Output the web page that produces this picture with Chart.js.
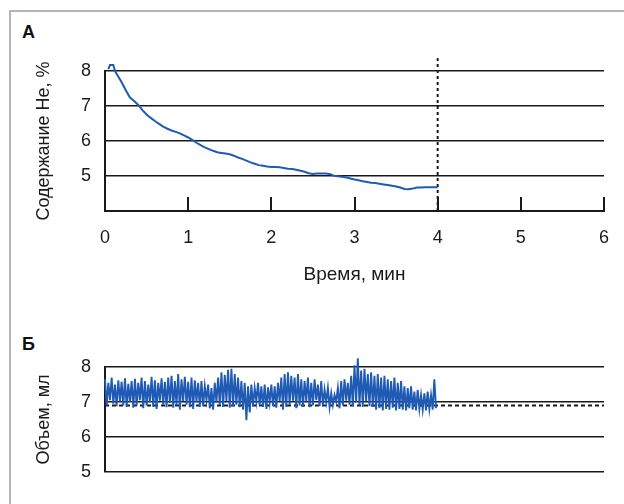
<!DOCTYPE html>
<html>
<head>
<meta charset="utf-8">
<script src="https://cdn.jsdelivr.net/npm/chart.js@4.4.1/dist/chart.umd.min.js"></script>
<style>
  body { margin: 0; background: #fff; }
  #wrap { position: relative; width: 624px; height: 504px; overflow: hidden; font-family: 'Liberation Sans', Arial, sans-serif; }
  .frame { position: absolute; left: 9px; top: 10px; width: 700px; height: 600px; border: 2px solid #b4b4b4; }
  .panel { position: absolute; left: 22px; font-weight: bold; font-size: 18px; line-height: 1; color: #111; }
  .box { position: absolute; left: 0; width: 624px; }
</style>
</head>
<body>
<div id="wrap">
  <div class="frame"></div>
  <div class="panel" style="top:23px">А</div>
  <div class="panel" style="top:335px">Б</div>
  <div class="box" style="top:0;height:290px"><canvas id="chartA"></canvas></div>
  <div class="box" style="top:290px;height:214px"><canvas id="chartB"></canvas></div>
</div>
<script>
// Panel A: helium content, %
const heTime = [0.04, 0.06, 0.10, 0.12, 0.15, 0.20, 0.25, 0.30, 0.35, 0.40,
  0.45, 0.50, 0.55, 0.60, 0.65, 0.70, 0.75, 0.80, 0.85, 0.90,
  0.95, 1.00, 1.05, 1.10, 1.15, 1.20, 1.25, 1.30, 1.35, 1.40,
  1.45, 1.50, 1.55, 1.60, 1.65, 1.70, 1.75, 1.80, 1.85, 1.90,
  1.95, 2.00, 2.05, 2.10, 2.15, 2.20, 2.25, 2.30, 2.35, 2.40,
  2.45, 2.50, 2.55, 2.60, 2.65, 2.70, 2.75, 2.80, 2.85, 2.90,
  2.95, 3.00, 3.05, 3.10, 3.15, 3.20, 3.25, 3.30, 3.35, 3.40,
  3.45, 3.50, 3.55, 3.60, 3.65, 3.70, 3.75, 3.80, 3.85, 3.90,
  3.95, 4.00];
const heValue = [8.05, 8.17, 8.17, 8.00, 7.88, 7.68, 7.45, 7.24, 7.14, 7.03,
  6.88, 6.76, 6.66, 6.57, 6.49, 6.41, 6.35, 6.30, 6.26, 6.22,
  6.16, 6.10, 6.03, 5.95, 5.88, 5.82, 5.77, 5.72, 5.68, 5.66,
  5.64, 5.62, 5.58, 5.53, 5.49, 5.44, 5.39, 5.35, 5.31, 5.29,
  5.27, 5.26, 5.26, 5.25, 5.23, 5.21, 5.20, 5.18, 5.15, 5.12,
  5.08, 5.06, 5.07, 5.07, 5.07, 5.06, 5.01, 4.99, 4.98, 4.96,
  4.93, 4.90, 4.88, 4.85, 4.83, 4.81, 4.80, 4.78, 4.76, 4.74,
  4.72, 4.70, 4.67, 4.63, 4.62, 4.64, 4.67, 4.67, 4.68, 4.68,
  4.68, 4.68];
const cutoffTime = 4;
const cutoffTop = 8.37;

// Panel B: volume, ml (peaks and troughs of each breath, 0.04 min apart)
const volStep = 0.04;
const volHigh = [7.65, 7.55, 7.70, 7.50, 7.62, 7.58, 7.68, 7.52, 7.60, 7.66,
  7.55, 7.70, 7.60, 7.50, 7.72, 7.62, 7.55, 7.68, 7.58, 7.70,
  7.75, 7.60, 7.80, 7.65, 7.72, 7.58, 7.70, 7.62, 7.55, 7.60,
  7.45, 7.50, 7.40, 7.55, 7.70, 7.85, 7.78, 7.92, 7.95, 7.80,
  7.70, 7.60, 7.55, 7.45, 7.50, 7.40, 7.55, 7.45, 7.50, 7.42,
  7.50, 7.45, 7.55, 7.70, 7.80, 7.85, 7.75, 7.70, 7.80, 7.65,
  7.60, 7.70, 7.55, 7.65, 7.50, 7.60, 7.35, 7.40, 7.25, 7.20,
  7.40, 7.60, 7.65, 7.55, 7.75, 8.05, 8.25, 7.90, 7.95, 7.80,
  7.85, 7.75, 7.80, 7.70, 7.75, 7.65, 7.60, 7.70, 7.55, 7.60,
  7.45, 7.40, 7.45, 7.30, 7.35, 7.20, 7.25, 7.30, 7.20, 7.65];
const volLow = [6.90, 7.05, 6.95, 6.88, 7.02, 6.90, 6.86, 7.00, 6.84, 6.90,
  7.05, 6.82, 6.90, 7.00, 6.86, 6.80, 7.04, 6.92, 6.85, 6.98,
  6.84, 6.90, 6.78, 7.02, 6.92, 6.85, 6.80, 7.00, 6.86, 6.88,
  7.05, 6.82, 6.78, 6.98, 6.92, 6.86, 7.02, 6.84, 6.88, 6.92,
  6.85, 6.78, 6.48, 6.70, 6.88, 7.02, 6.90, 6.86, 6.80, 7.00,
  6.88, 6.84, 7.02, 6.78, 6.86, 6.92, 7.04, 6.82, 6.90, 6.86,
  7.02, 6.85, 6.90, 7.05, 6.88, 6.90, 7.00, 6.86, 6.92, 7.02,
  6.82, 6.90, 7.04, 6.92, 6.88, 7.00, 6.90, 6.86, 7.02, 6.88,
  6.86, 6.78, 6.82, 6.76, 6.80, 6.78, 6.84, 6.76, 6.80, 6.78,
  6.76, 6.82, 6.78, 6.76, 6.80, 6.78, 6.76, 6.80, 6.78, 6.82];
const volRef = 6.9;

const timeTicks = [0, 1, 2, 3, 4, 5, 6];
const heTicks = [4, 5, 6, 7, 8];
const volTicks = [5, 6, 7, 8];

const FONT = "'Liberation Sans', Arial, sans-serif";
const INK = '#1a1a1a';
const BLUE = '#1f5bb4';

Chart.defaults.font.family = FONT;
Chart.defaults.color = INK;
Chart.defaults.animation = false;

// short ticks pointing up from the time axis
const innerTicks = {
  id: 'innerTicks',
  afterDatasetsDraw(chart, args, opts) {
    if (!opts.length) return;
    const { ctx, scales: { x, y } } = chart;
    ctx.save();
    ctx.strokeStyle = INK;
    ctx.lineWidth = 2;
    x.ticks.forEach(t => {
      if (t.value === 0) return;
      const px = Math.round(x.getPixelForValue(t.value));
      ctx.beginPath();
      ctx.moveTo(px, y.bottom);
      ctx.lineTo(px, y.bottom - opts.length);
      ctx.stroke();
    });
    ctx.restore();
  }
};

function yAxis(min, max, ticks, title, showFirst) {
  return {
    type: 'linear', min: min, max: max,
    afterBuildTicks: s => { s.ticks = ticks.map(v => ({ value: v })); },
    afterFit: s => { s.width = 105; },
    border: { display: true, color: INK, width: 2 },
    grid: { color: INK, lineWidth: 1.6, drawTicks: false },
    ticks: {
      padding: 14, font: { size: 18 }, color: INK,
      callback: v => (v === min && !showFirst) ? '' : v
    },
    title: { display: true, text: title, font: { size: 18 }, color: INK, padding: { top: 33 } }
  };
}

// Panel A
const heData = heTime.map((t, i) => ({ x: t, y: heValue[i] }));
new Chart(document.getElementById('chartA'), {
  type: 'line',
  data: {
    datasets: [
      { data: heData, borderColor: BLUE, borderWidth: 2, pointRadius: 0, clip: false },
      { data: [{ x: cutoffTime, y: heTicks[0] }, { x: cutoffTime, y: cutoffTop }],
        borderColor: INK, borderWidth: 2, borderDash: [3, 3], pointRadius: 0, clip: false }
    ]
  },
  options: {
    responsive: true,
    maintainAspectRatio: false,
    layout: { padding: { top: 71, right: 20, bottom: 0, left: 0 } },
    plugins: { legend: { display: false }, tooltip: { enabled: false }, innerTicks: { length: 14 } },
    scales: {
      x: {
        type: 'linear', min: 0, max: 6,
        afterBuildTicks: s => { s.ticks = timeTicks.map(v => ({ value: v })); },
        afterFit: s => { s.height = 79; },
        border: { display: true, color: INK, width: 2 },
        grid: { display: false },
        ticks: { padding: 8, font: { size: 18 }, color: INK, maxRotation: 0 },
        title: { display: true, text: 'Время, мин', font: { size: 19 }, color: INK, padding: { bottom: 4 } }
      },
      y: yAxis(4, 8, heTicks, 'Содержание He, %', false)
    }
  },
  plugins: [innerTicks]
});

// Panel B
const volData = [];
volHigh.forEach((v, i) => {
  volData.push({ x: i * volStep, y: v });
  volData.push({ x: i * volStep + volStep / 2, y: volLow[i] });
});
new Chart(document.getElementById('chartB'), {
  type: 'line',
  data: {
    datasets: [
      { data: volData, borderColor: BLUE, borderWidth: 1.9, pointRadius: 0, clip: false },
      { data: [{ x: 0, y: volRef }, { x: 6, y: volRef }],
        borderColor: INK, borderWidth: 2, borderDash: [4, 3], pointRadius: 0 }
    ]
  },
  options: {
    responsive: true,
    maintainAspectRatio: false,
    layout: { padding: { top: 77, right: 20, bottom: 32, left: 0 } },
    plugins: { legend: { display: false }, tooltip: { enabled: false } },
    scales: {
      x: { type: 'linear', min: 0, max: 6, display: false },
      y: yAxis(5, 8, volTicks, 'Объем, мл', true)
    }
  }
});
</script>
</body>
</html>
